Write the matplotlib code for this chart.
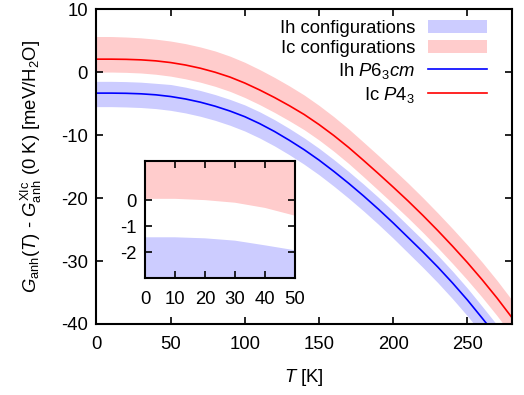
import numpy as np
import matplotlib
matplotlib.use("Agg")
import matplotlib.pyplot as plt

# ==========================================================
# DATA
# ==========================================================
T = [0, 10, 20, 30, 40, 50, 60, 70, 80, 90, 100, 110, 120, 130, 140,
     150, 160, 170, 180, 190, 200, 210, 220, 230, 240, 250, 260, 270, 280]

ic_line = [2.10, 2.10, 2.07, 1.99, 1.83, 1.56, 1.17, 0.66, 0.02, -0.75,
           -1.70, -2.80, -4.00, -5.30, -6.70, -8.30, -10.05, -11.95, -14.00, -16.10,
           -18.25, -20.45, -22.75, -25.15, -27.65, -30.25, -33.00, -35.90, -39.00]
ic_hi = [5.70, 5.70, 5.62, 5.49, 5.28, 4.98, 4.57, 4.04, 3.40, 2.58,
         1.60, 0.45, -0.80, -2.15, -3.60, -5.25, -7.05, -9.00, -11.10, -13.22,
         -15.39, -17.61, -19.93, -22.35, -24.85, -27.45, -30.20, -33.10, -36.20]
ic_lo = [0.05, 0.05, 0.00, -0.10, -0.30, -0.60, -1.03, -1.56, -2.22, -3.02,
         -4.00, -5.13, -6.37, -7.70, -9.12, -10.75, -12.55, -14.50, -16.60, -18.75,
         -20.92, -23.14, -25.46, -27.88, -30.40, -33.02, -35.79, -38.71, -41.82]

ih_line = [-3.30, -3.30, -3.33, -3.41, -3.57, -3.84, -4.23, -4.74, -5.38, -6.15,
           -7.05, -8.15, -9.40, -10.80, -12.30, -13.95, -15.75, -17.65, -19.65, -21.75,
           -23.95, -26.25, -28.55, -30.95, -33.50, -36.20, -39.10, -42.05, -45.00]
ih_hi = [-1.43, -1.43, -1.47, -1.56, -1.74, -1.93, -2.35, -2.88, -3.53, -4.30,
         -5.18, -6.27, -7.52, -8.92, -10.42, -12.07, -13.87, -15.77, -17.77, -19.87,
         -22.07, -24.37, -26.67, -29.07, -31.62, -34.32, -37.22, -40.17, -43.12]
ih_lo = [-5.45, -5.45, -5.50, -5.59, -5.76, -6.04, -6.45, -6.98, -7.63, -8.41,
         -9.33, -10.44, -11.70, -13.10, -14.62, -16.28, -18.10, -20.02, -22.04, -24.16,
         -26.38, -28.70, -31.02, -33.44, -36.01, -38.73, -41.65, -44.62, -47.59]

main_xticks = [0, 50, 100, 150, 200, 250]
main_yticks = [-40, -30, -20, -10, 0, 10]
inset_xticks = [0, 10, 20, 30, 40, 50]
inset_yticks = [-2, -1, 0]

# ==========================================================
# STYLE
# ==========================================================
FS = 13.3
plt.rcParams['font.family'] = ['Liberation Sans', 'DejaVu Sans']
plt.rcParams['font.size'] = FS
plt.rcParams['axes.unicode_minus'] = False
plt.rcParams['mathtext.fontset'] = 'custom'
plt.rcParams['mathtext.rm'] = 'Liberation Sans'
plt.rcParams['mathtext.it'] = 'Liberation Sans:italic'
plt.rcParams['mathtext.bf'] = 'Liberation Sans:bold'

band_blue = '#ccccff'
band_red = '#ffcccc'
line_blue = '#0000ff'
line_red = '#ff0000'


def style_axes(ax):
    for s in ax.spines.values():
        s.set_linewidth(1.5)
    ax.tick_params(direction='in', top=True, right=True, length=5, width=1.2,
                   labelsize=FS)


fig = plt.figure(figsize=(5.24, 3.95), dpi=100)
ax = fig.add_axes([0.184, 0.180, 0.793, 0.796])

ax.fill_between(T, ih_lo, ih_hi, color=band_blue, lw=0, label='Ih configurations')
ax.fill_between(T, ic_lo, ic_hi, color=band_red, lw=0, label='Ic configurations')
ax.plot(T, ih_line, color=line_blue, lw=1.2, label='Ih $P6_3cm$')
ax.plot(T, ic_line, color=line_red, lw=1.2, label='Ic $P4_3$')

ax.set_xlim(0, 280)
ax.set_ylim(-40, 10)
ax.set_xticks(main_xticks)
ax.set_yticks(main_yticks)
style_axes(ax)
ax.tick_params(axis='x', pad=9)
ax.tick_params(axis='y', pad=6)
ax.set_xlabel('$T$ [K]', labelpad=10)
ax.set_ylabel(r'$G_{\mathrm{anh}}(T)$ - $G_{\mathrm{anh}}^{\mathrm{XIc}}$ (0 K) [meV/H$_2$O]',
              labelpad=12)

leg = ax.legend(loc='upper right', bbox_to_anchor=(0.94, 0.968), frameon=False,
                markerfirst=False, handlelength=3.2, handletextpad=0.7,
                labelspacing=0.2, borderaxespad=0, borderpad=0, fontsize=FS)

# inset
axi = fig.add_axes([0.277, 0.296, 0.286, 0.296])
axi.fill_between(T, ih_lo, ih_hi, color=band_blue, lw=0)
axi.fill_between(T, ic_lo, ic_hi, color=band_red, lw=0)
axi.plot(T, ih_line, color=line_blue, lw=1.2)
axi.plot(T, ic_line, color=line_red, lw=1.2)
axi.set_xlim(0, 50)
axi.set_ylim(-3, 1.5)
axi.set_xticks(inset_xticks)
axi.set_yticks(inset_yticks)
style_axes(axi)
axi.tick_params(axis='x', pad=9)
axi.tick_params(axis='y', pad=6)

fig.savefig('out.png', dpi=100)
